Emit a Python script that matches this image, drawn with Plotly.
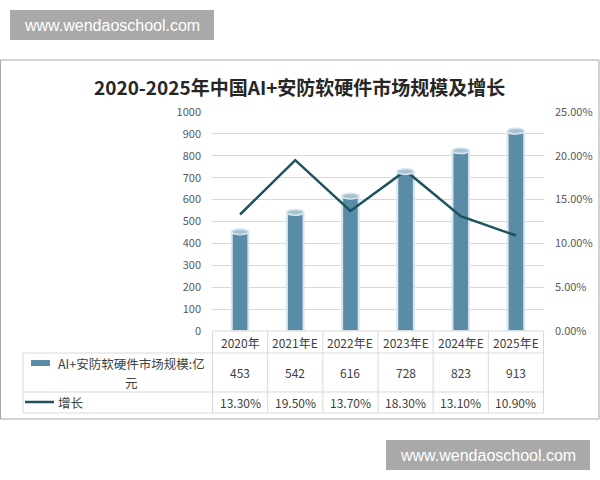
import plotly.graph_objects as go

# ---- data ----
categories = ["2020年", "2021年E", "2022年E", "2023年E", "2024年E", "2025年E"]
market_size = [453, 542, 616, 728, 823, 913]          # 亿元
growth = [0.133, 0.195, 0.137, 0.183, 0.131, 0.109]   # 增长
bar_name = "AI+安防软硬件市场规模:亿元"
line_name = "增长"
title_text = "2020-2025年中国AI+安防软硬件市场规模及增长"
left_ticks = list(range(0, 1001, 100))
right_ticks = [0, 0.05, 0.10, 0.15, 0.20, 0.25]
watermark = "www.wendaoschool.com"

W, H = 600, 480
BAR_C = "#5A8BA7"
BAR_TOP = "#A9C2CF"
LINE_C = "#1C535E"
GRID_C = "#D9D9D9"
TXT_C = "#595959"
FONT = "Noto Sans CJK SC"

def px(x):
    return x / W

def py(y):
    return 1 - y / H

PL, PR, PT, PB = 212, 544, 112, 331

fig = go.Figure()
fig.add_trace(go.Bar(
    x=categories, y=market_size, name=bar_name,
    marker=dict(color=BAR_C, line=dict(color="#D6E5EE", width=2)),
    width=0.3, yaxis="y", showlegend=False,
))
fig.add_trace(go.Scatter(
    x=categories, y=growth, name=line_name, mode="lines",
    line=dict(color=LINE_C, width=2.5), yaxis="y2", showlegend=False,
))

shapes = []
annotations = []

def ann(x, y, text, font, xref="paper", **kw):
    d = dict(x=x, y=y, xref=xref, yref="paper", text=text, showarrow=False,
             xanchor="center", yanchor="middle", font=font)
    d.update(kw)
    annotations.append(d)

# cylinder tops / bottoms derived from data
for i, v in enumerate(market_size):
    shapes.append(dict(type="circle", xref="x", yref="y",
                       x0=i - 0.15, x1=i + 0.15, y0=v - 13, y1=v + 13,
                       fillcolor=BAR_TOP, line=dict(color="#D6E5EE", width=1.5), layer="above"))
    shapes.append(dict(type="circle", xref="x", yref="y",
                       x0=i - 0.15, x1=i + 0.15, y0=-13, y1=13,
                       fillcolor=BAR_C, line=dict(width=0), layer="below"))

# chart frame
shapes.append(dict(type="rect", xref="paper", yref="paper",
                   x0=px(0.5), x1=px(599), y0=py(419), y1=py(60),
                   line=dict(color="#A6A6A6", width=1), fillcolor="rgba(0,0,0,0)"))

# watermark boxes
for (x0, y0, x1, y1) in [(10, 10, 214, 40), (386, 440, 590, 470)]:
    shapes.append(dict(type="rect", xref="paper", yref="paper",
                       x0=px(x0), x1=px(x1), y0=py(y1), y1=py(y0),
                       fillcolor="#A9A9A9", line=dict(width=0)))
    ann(px((x0 + x1) / 2), py((y0 + y1) / 2), watermark,
        dict(family="Liberation Sans", size=16, color="white"))

# data table grid
n = len(categories)
tbl_line = dict(color=GRID_C, width=1)
ROW_H0, ROW_H1, ROW_1, ROW_2 = 331, 353, 392, 413
TL = 23
shapes.append(dict(type="line", xref="x", yref="paper", x0=-0.5, x1=n - 0.5,
                   y0=py(ROW_H0), y1=py(ROW_H0), line=tbl_line))
for y in [ROW_H1, ROW_1, ROW_2]:
    shapes.append(dict(type="line", xref="paper", yref="paper", x0=px(TL), x1=px(PR),
                       y0=py(y), y1=py(y), line=tbl_line))
for k in range(n + 1):
    shapes.append(dict(type="line", xref="x", yref="paper", x0=k - 0.5, x1=k - 0.5,
                       y0=py(ROW_2), y1=py(ROW_H0), line=tbl_line))
shapes.append(dict(type="line", xref="paper", yref="paper", x0=px(TL), x1=px(TL),
                   y0=py(ROW_2), y1=py(ROW_H1), line=tbl_line))

cell_font = dict(family=FONT, size=12, color="#404040")
for i, c in enumerate(categories):
    ann(c, py(342), c, cell_font, xref="x")
    ann(c, py(372), str(market_size[i]), cell_font, xref="x")
    ann(c, py(402), f"{growth[i]*100:.2f}%", cell_font, xref="x")

# legend keys inside the table
leg_font = dict(family=FONT, size=12.5, color="#404040")
shapes.append(dict(type="rect", xref="paper", yref="paper", x0=px(31), x1=px(50),
                   y0=py(366), y1=py(360), fillcolor=BAR_C, line=dict(width=0)))
shapes.append(dict(type="line", xref="paper", yref="paper", x0=px(25), x1=px(54),
                   y0=py(402), y1=py(402), line=dict(color=LINE_C, width=2.5)))
ann(px(131), py(363), bar_name[:-1], leg_font)
ann(px(131), py(382), bar_name[-1], leg_font)
ann(px(56), py(402), line_name, leg_font, xanchor="left")

# title
ann(px(299), py(86), "<b>" + title_text + "</b>",
    dict(family=FONT, size=19, color="#262626"))

fig.update_layout(
    width=W, height=H, autosize=False,
    margin=dict(l=0, r=0, t=0, b=0, autoexpand=False),
    paper_bgcolor="white", plot_bgcolor="white",
    font=dict(family=FONT, color=TXT_C, size=11),
    xaxis=dict(domain=[px(PL), px(PR)], type="category", showticklabels=False,
               showgrid=False, zeroline=False, showline=False, automargin=False),
    yaxis=dict(domain=[py(PB), py(PT)], range=[0, 1000], tickvals=left_ticks,
               showgrid=True, gridcolor=GRID_C, zeroline=False, showline=False, automargin=False,
               ticklabelstandoff=10, tickfont=dict(size=11, color=TXT_C)),
    yaxis2=dict(overlaying="y", side="right", range=[0, 0.25], tickvals=right_ticks,
                tickformat=".2%", showgrid=False, zeroline=False, showline=False, automargin=False,
                ticklabelstandoff=10, tickfont=dict(size=11, color=TXT_C)),
    shapes=shapes, annotations=annotations, showlegend=False,
)

fig.write_html("out.html", config={"displayModeBar": False},
               post_script="document.body.style.margin='0';document.body.style.overflow='hidden';")
